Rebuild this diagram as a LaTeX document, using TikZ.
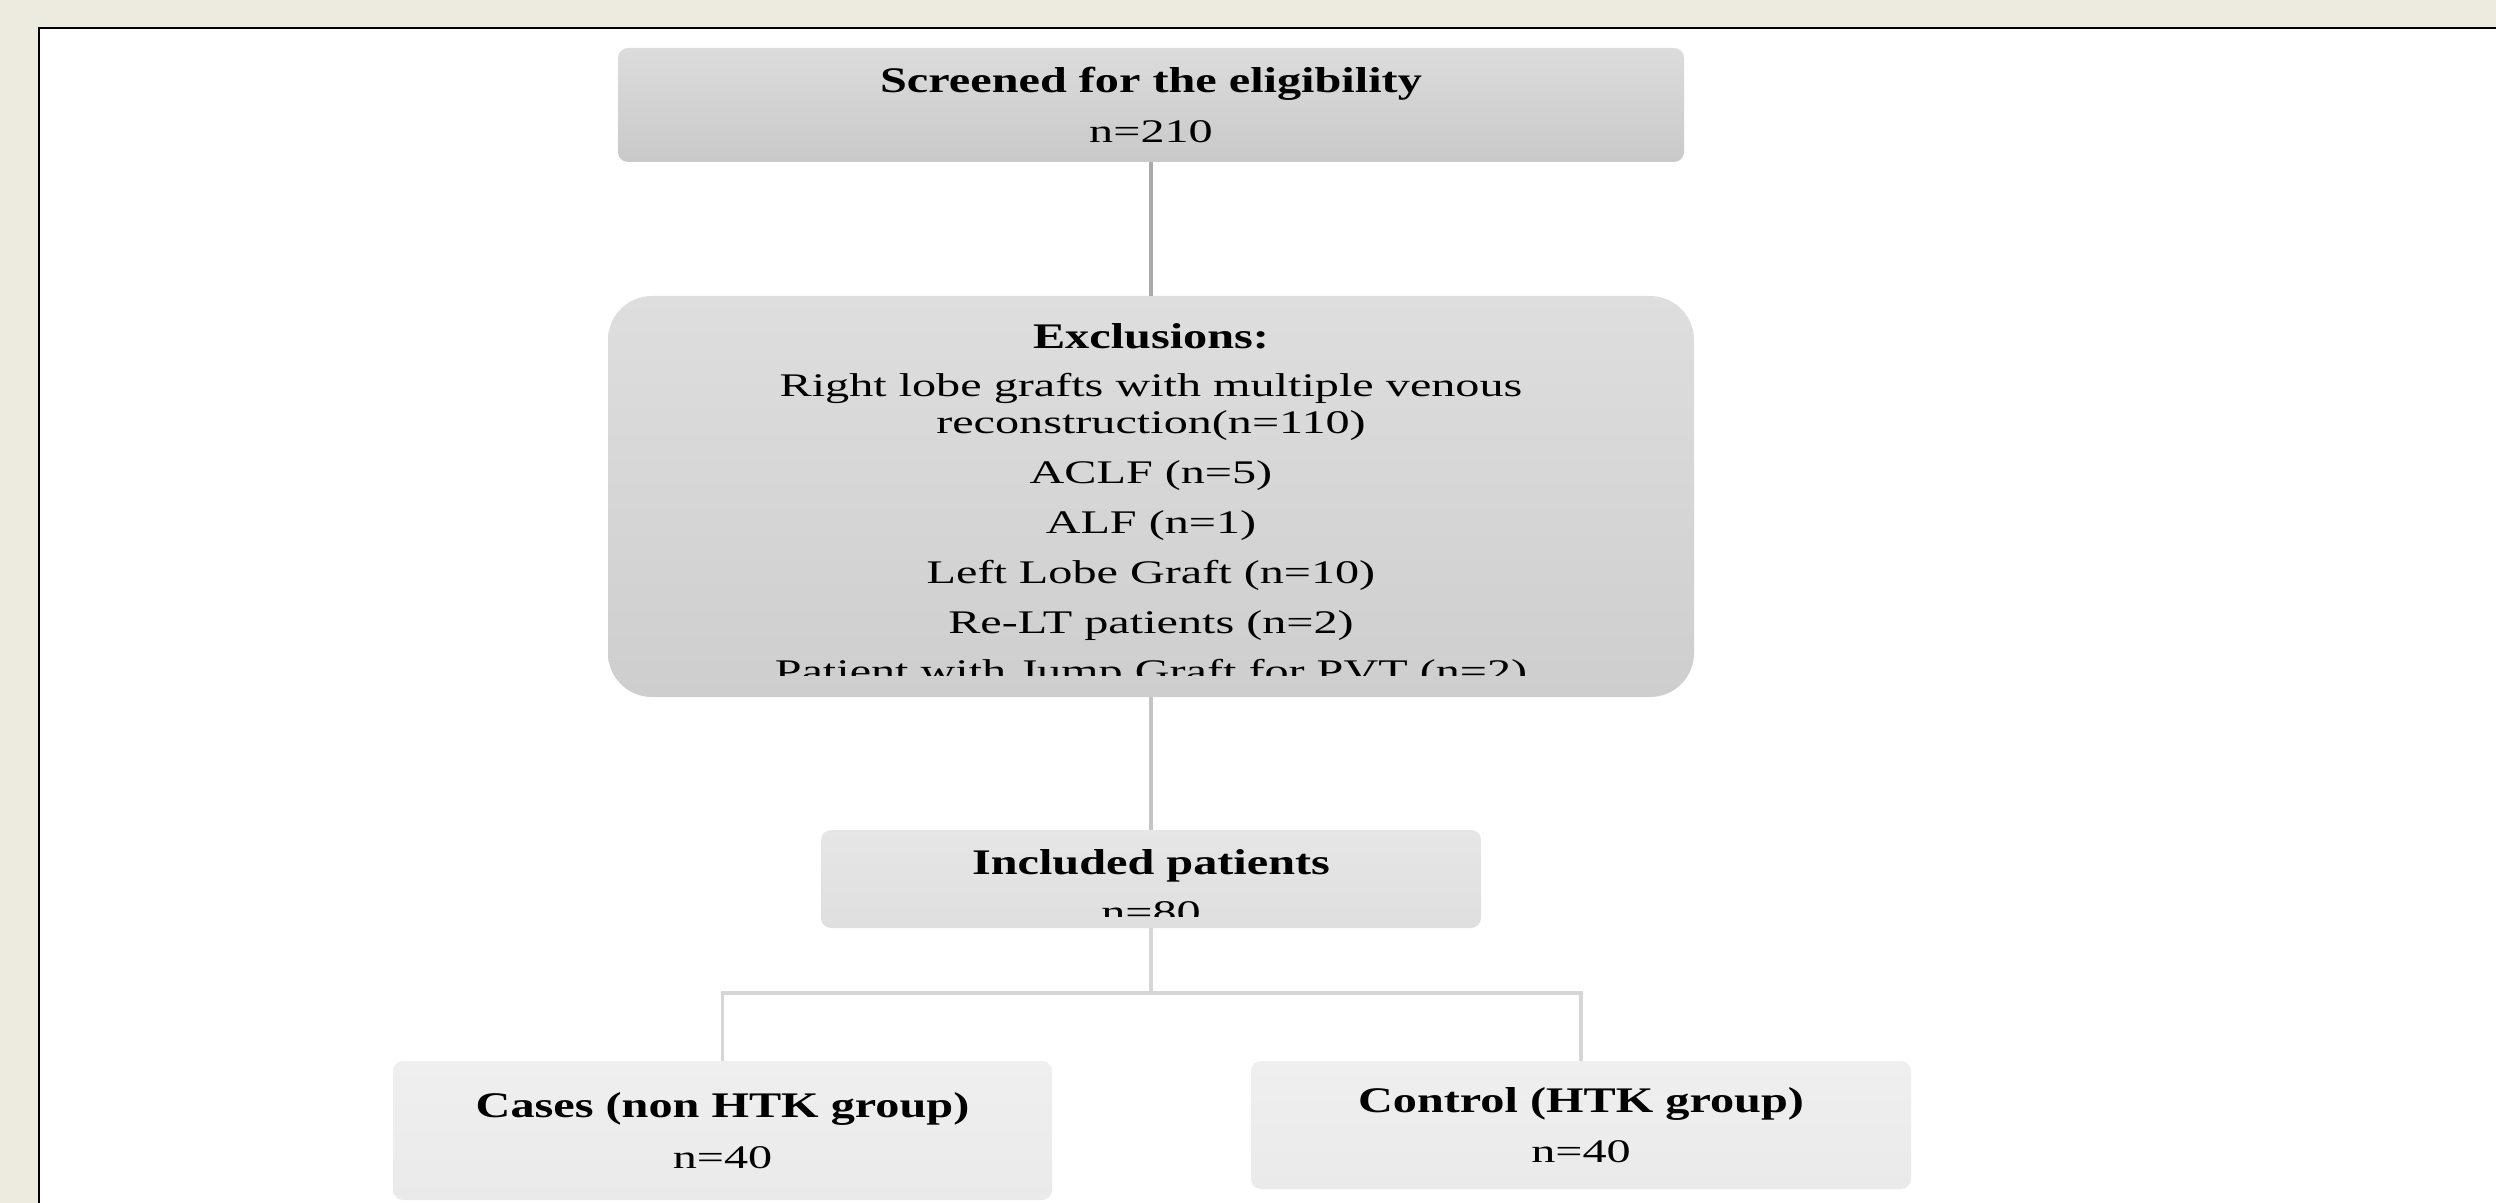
\documentclass[tikz,border=0pt]{standalone}
\usepackage{fontspec}
\newfontfamily\regf[FakeStretch=1.46]{Liberation Serif}
\newfontfamily\boldf[FakeStretch=1.34]{Liberation Serif}
\definecolor{beige}{HTML}{EDEBE0}
\definecolor{lineA}{HTML}{AAAAAA}
\definecolor{lineB}{HTML}{C4C4C4}
\definecolor{lineC}{HTML}{D6D6D6}
\tikzset{
  box/.style={rectangle, inner sep=0pt, draw=none},
  rtxt/.style={anchor=base, inner sep=0pt, font=\regf\fontsize{16.5}{18.5}\selectfont},
  btxt/.style={anchor=base, inner sep=0pt, font=\boldf\bfseries\fontsize{18}{20}\selectfont},
  conn/.style={line width=1.7pt}
}
\begin{document}
\begin{tikzpicture}[x=0.5pt,y=-0.5pt]
\clip (0,0) rectangle (2496,1203);
\fill[beige] (0,0) rectangle (2496,1203);
\draw[fill=white, draw=black, line width=1pt] (39,28) rectangle (2530,1240);

% boxes
\node[box, minimum width=533pt, minimum height=57pt, rounded corners=5pt,
      top color={rgb,255:red,220;green,220;blue,220}, bottom color={rgb,255:red,201;green,201;blue,201}]
      (b1) at (1151,105) {};
\node[box, minimum width=543pt, minimum height=200.5pt, rounded corners=22pt,
      top color={rgb,255:red,222;green,222;blue,222}, bottom color={rgb,255:red,206;green,206;blue,206}]
      (b2) at (1151,496.5) {};
\node[box, minimum width=330pt, minimum height=49pt, rounded corners=5pt,
      top color={rgb,255:red,230;green,230;blue,230}, bottom color={rgb,255:red,223;green,223;blue,223}]
      (b3) at (1151,879) {};
\node[box, minimum width=329.5pt, minimum height=69.5pt, rounded corners=5pt,
      top color={rgb,255:red,239;green,239;blue,239}, bottom color={rgb,255:red,234;green,234;blue,234}]
      (b4) at (722.5,1130.5) {};
\node[box, minimum width=330pt, minimum height=64pt, rounded corners=5pt,
      top color={rgb,255:red,239;green,239;blue,239}, bottom color={rgb,255:red,234;green,234;blue,234}]
      (b5) at (1581,1125) {};

% connectors
\draw[conn, lineA] (b1.south) -- (b2.north);
\draw[conn, lineB] (b2.south) -- (b3.north);
\coordinate (fork) at (1151,993);
\draw[conn, lineC] (b3.south) -- (fork);
\draw[conn, lineC] (fork) -| (b4.north);
\draw[conn, lineC] (fork) -| (b5.north);

% texts
\node[btxt] (t1a) at (1151,93) {Screened for the eligibility};
\node[rtxt] (t1b) at (1151,143) {n=210};

\begin{scope}
\clip (600,300) rectangle (1700,675);
\node[btxt] (t2a) at (1151,349) {Exclusions:};
\node[rtxt] (t2b) at (1151,397) {Right lobe grafts with multiple venous};
\node[rtxt] (t2c) at (1151,434) {reconstruction(n=110)};
\node[rtxt] (t2d) at (1151,484) {ACLF (n=5)};
\node[rtxt] (t2e) at (1151,533) {ALF (n=1)};
\node[rtxt] (t2f) at (1151,583) {Left Lobe Graft (n=10)};
\node[rtxt] (t2g) at (1151,633) {Re-LT patients (n=2)};
\node[rtxt] (t2h) at (1151,682) {Patient with Jump Graft for PVT (n=2)};
\end{scope}

\begin{scope}
\clip (800,830) rectangle (1500,916);
\node[btxt] (t3a) at (1151,874) {Included patients};
\node[rtxt] (t3b) at (1151,923) {n=80};
\end{scope}

\node[btxt] (t4a) at (722.5,1117) {Cases (non HTK group)};
\node[rtxt] (t4b) at (722.5,1168) {n=40};
\node[btxt] (t5a) at (1581,1112) {Control (HTK group)};
\node[rtxt] (t5b) at (1581,1162) {n=40};
\end{tikzpicture}
\end{document}
